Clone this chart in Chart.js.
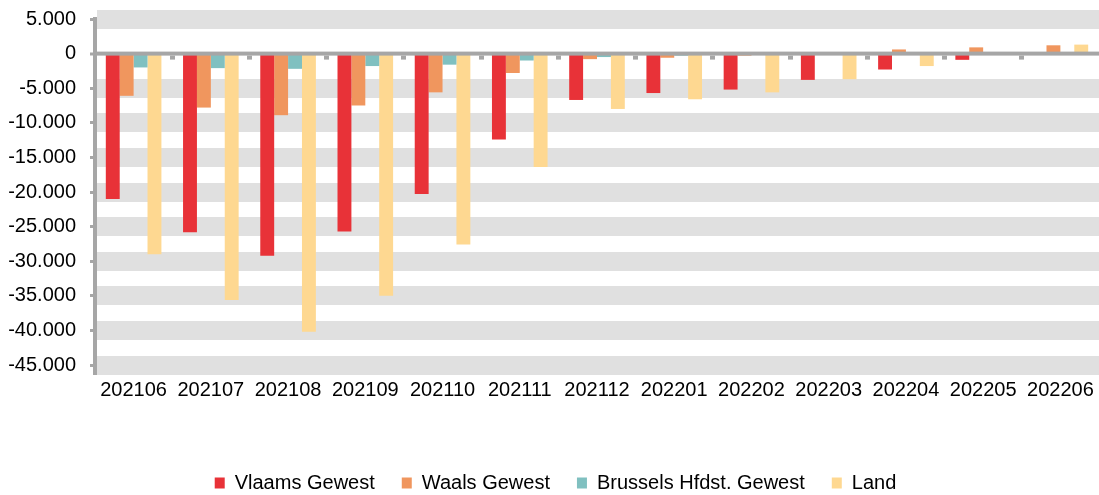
<!DOCTYPE html>
<html>
<head>
<meta charset="utf-8">
<script src="https://cdn.jsdelivr.net/npm/chart.js@4.4.1/dist/chart.umd.min.js"></script>
<style>
  html, body { margin: 0; padding: 0; background: #ffffff; }
  #wrap { width: 1099px; height: 495px; }
</style>
</head>
<body>
<div id="wrap"><canvas id="c" width="1099" height="495"></canvas></div>
<script>
const categories = ['202106','202107','202108','202109','202110','202111','202112','202201','202202','202203','202204','202205','202206'];
const vlaams   = [-21000,-25800,-29200,-25700,-20300,-12400,-6700,-5700,-5200,-3800,-2300,-900,100];
const waals    = [-6100,-7800,-8900,-7500,-5600,-2800,-800,-600,-300,100,600,900,1200];
const brussels = [-2000,-2100,-2200,-1800,-1600,-1000,-500,-300,-100,0,0,0,0];
const land     = [-29000,-35600,-40200,-35000,-27600,-16400,-8000,-6600,-5600,-3700,-1800,0,1300];
const seriesNames = ['Vlaams Gewest','Waals Gewest','Brussels Hfdst. Gewest','Land'];
const seriesColors = ['#e83238','#f0965e','#80c0c0','#fed891'];

const FONT = "'Liberation Sans', Arial, sans-serif";
const AXIS_GRAY = '#a6a6a6';
const LEGEND_PAD = 27;

function fmt(v) {
  const s = Math.abs(v).toString().replace(/\B(?=(\d{3})+(?!\d))/g, '.');
  return (v < 0 ? '-' : '') + s;
}

const zeroLinePlugin = {
  id: 'zeroLine',
  afterDatasetsDraw(chart) {
    const {ctx, chartArea, scales} = chart;
    const y = scales.y.getPixelForValue(0);
    const xs = scales.x;
    ctx.save();
    ctx.fillStyle = AXIS_GRAY;
    ctx.fillRect(chartArea.left, y - 2, chartArea.right - chartArea.left, 4);
    for (let i = 1; i < categories.length; i++) {
      const bx = (xs.getPixelForValue(i - 1) + xs.getPixelForValue(i)) / 2;
      ctx.fillRect(Math.round(bx - 2.5), y + 2, 5, 4);
    }
    ctx.restore();
  }
};

const legendTweak = {
  id: 'legendTweak',
  beforeInit(chart) {
    const lg = chart.legend;
    if (!lg || lg._tweaked) return;
    lg._tweaked = true;
    const origFit = lg.fit;
    lg.fit = function () { origFit.call(this); this.height -= 8; };
    const origDraw = lg.draw;
    lg.draw = function () {
      const ctx = this.ctx;
      ctx.save(); ctx.translate(6, 0); origDraw.call(this); ctx.restore();
    };
  }
};

const datasets = [vlaams, waals, brussels, land].map((d, i) => ({
  label: seriesNames[i],
  data: d,
  backgroundColor: seriesColors[i],
  borderWidth: 0,
  categoryPercentage: 0.72,
  barPercentage: 1.0
}));

const isZero = (ctx) => ctx.tick && ctx.tick.value === 0;

new Chart(document.getElementById('c'), {
  type: 'bar',
  data: { labels: categories, datasets },
  plugins: [zeroLinePlugin, legendTweak],
  options: {
    responsive: false,
    animation: false,
    devicePixelRatio: 1,
    layout: { padding: { top: 19, right: 0, bottom: 0, left: 0 } },
    plugins: {
      title: { display: false },
      tooltip: { enabled: false },
      legend: {
        position: 'bottom',
        labels: {
          boxWidth: 10,
          boxHeight: 11,
          padding: LEGEND_PAD,
          color: '#000',
          font: { family: FONT, size: 20 }
        }
      }
    },
    scales: {
      x: {
        grid: { display: false, drawTicks: false },
        border: { display: false },
        ticks: {
          color: '#000',
          font: { family: FONT, size: 20 },
          padding: 13,
          maxRotation: 0,
          autoSkip: false
        },
        afterFit(scale) {
          scale.height = 108 - LEGEND_PAD;
          scale.paddingLeft = 0;
          scale.paddingRight = 0;
        }
      },
      y: {
        min: -45000,
        max: 5000,
        grid: {
          color: (ctx) => isZero(ctx) ? 'rgba(0,0,0,0)' : '#e0e0e0',
          lineWidth: (ctx) => isZero(ctx) ? 0 : 19,
          tickColor: AXIS_GRAY,
          tickWidth: 3,
          tickLength: 5,
          drawTicks: true
        },
        border: { display: true, color: AXIS_GRAY, width: 4 },
        ticks: {
          stepSize: 5000,
          color: '#000',
          font: { family: FONT, size: 20 },
          padding: 14,
          callback: (v) => fmt(v)
        },
        afterFit(scale) {
          scale.width = 95;
          scale.paddingTop = 0;
          scale.paddingBottom = 0;
        }
      }
    }
  }
});
</script>
</body>
</html>
